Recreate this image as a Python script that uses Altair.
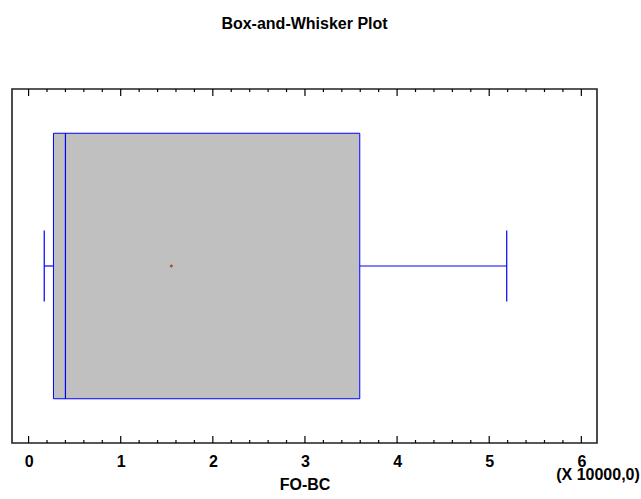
import altair as alt
import pandas as pd

# ---- data (units of 10000) ----
var_name = "FO-BC"
stat_names = ["min", "q1", "median", "q3", "max", "mean"]
stat_values = [0.17, 0.27, 0.40, 3.595, 5.19, 1.55]
major_ticks = [0, 1, 2, 3, 4, 5, 6]
minor_ticks = [0.2, 0.4, 0.6, 0.8, 1.2, 1.4, 1.6, 1.8, 2.2, 2.4, 2.6, 2.8,
               3.2, 3.4, 3.6, 3.8, 4.2, 4.4, 4.6, 4.8, 5.2, 5.4, 5.6, 5.8]
scale_note = ["(X 10000,0)"]
chart_title = "Box-and-Whisker Plot"

# ---- style ----
W, H = 585, 354
FONT = "Liberation Sans"
BLUE = "#0000ff"
BOX_FILL = "#c0c0c0"
MEAN_COLOR = "#a0522d"

xscale = alt.Scale(domain=[-0.18, 6.17], nice=False, zero=False)
xaxis = alt.Axis(values=major_ticks, format="d", ticks=False, domain=False, grid=False,
                 labelFont=FONT, labelFontSize=16, labelFontWeight="bold", labelColor="black",
                 labelPadding=10, titleFont=FONT, titleFontSize=16, titleFontWeight="bold",
                 titleColor="black", titlePadding=7)


def X(field):
    return alt.X(field, type="quantitative", scale=xscale, axis=xaxis, title=var_name)


stats = pd.DataFrame([dict(zip(stat_names, stat_values))])
base = alt.Chart(stats)

box = base.mark_rect(fill=BOX_FILL, stroke=BLUE, strokeWidth=1).encode(
    x=X("q1"), x2="q3:Q", y=alt.value(H * 0.125), y2=alt.value(H * 0.875))
median = base.mark_rule(color=BLUE, strokeWidth=1.2).encode(
    x=X("median"), y=alt.value(H * 0.125), y2=alt.value(H * 0.875))
wl = base.mark_rule(color=BLUE, strokeWidth=1.2).encode(
    x=X("min"), x2="q1:Q", y=alt.value(H * 0.5))
wr = base.mark_rule(color=BLUE, strokeWidth=1.2).encode(
    x=X("q3"), x2="max:Q", y=alt.value(H * 0.5))
capl = base.mark_rule(color=BLUE, strokeWidth=1.2).encode(
    x=X("min"), y=alt.value(H * 0.4), y2=alt.value(H * 0.6))
capr = base.mark_rule(color=BLUE, strokeWidth=1.2).encode(
    x=X("max"), y=alt.value(H * 0.4), y2=alt.value(H * 0.6))
mean = base.mark_point(shape="cross", filled=True, size=10, color=MEAN_COLOR, opacity=1).encode(
    x=X("mean"), y=alt.value(H * 0.5))

maj = alt.Chart(pd.DataFrame({"t": major_ticks}))
mnr = alt.Chart(pd.DataFrame({"t": minor_ticks}))
tick_layers = [
    maj.mark_rule(color="black", strokeWidth=1.2).encode(x=X("t"), y=alt.value(0), y2=alt.value(7)),
    maj.mark_rule(color="black", strokeWidth=1.2).encode(x=X("t"), y=alt.value(H - 7), y2=alt.value(H)),
    mnr.mark_rule(color="black", strokeWidth=1.2).encode(x=X("t"), y=alt.value(0), y2=alt.value(3)),
    mnr.mark_rule(color="black", strokeWidth=1.2).encode(x=X("t"), y=alt.value(H - 3), y2=alt.value(H)),
]

note = alt.Chart(pd.DataFrame({"note": scale_note})).mark_text(
    font=FONT, fontSize=16, fontWeight="bold", color="black", align="center", baseline="alphabetic"
).encode(text="note:N", x=alt.value(W + 1), y=alt.value(H + 37))

chart = alt.layer(box, wl, wr, capl, capr, median, mean, *tick_layers, note).properties(
    width=W, height=H, background="white",
    title=alt.TitleParams(chart_title, font=FONT, fontSize=16, fontWeight="bold", color="black",
                          anchor="middle", baseline="alphabetic", offset=43),
    autosize=alt.AutoSizeParams(type="none"),
    padding={"left": 12, "top": 89, "right": 44, "bottom": 56},
).configure_view(stroke="#202020", strokeWidth=1.6)

chart.save("out.html", embed_options={"renderer": "svg", "actions": False})
